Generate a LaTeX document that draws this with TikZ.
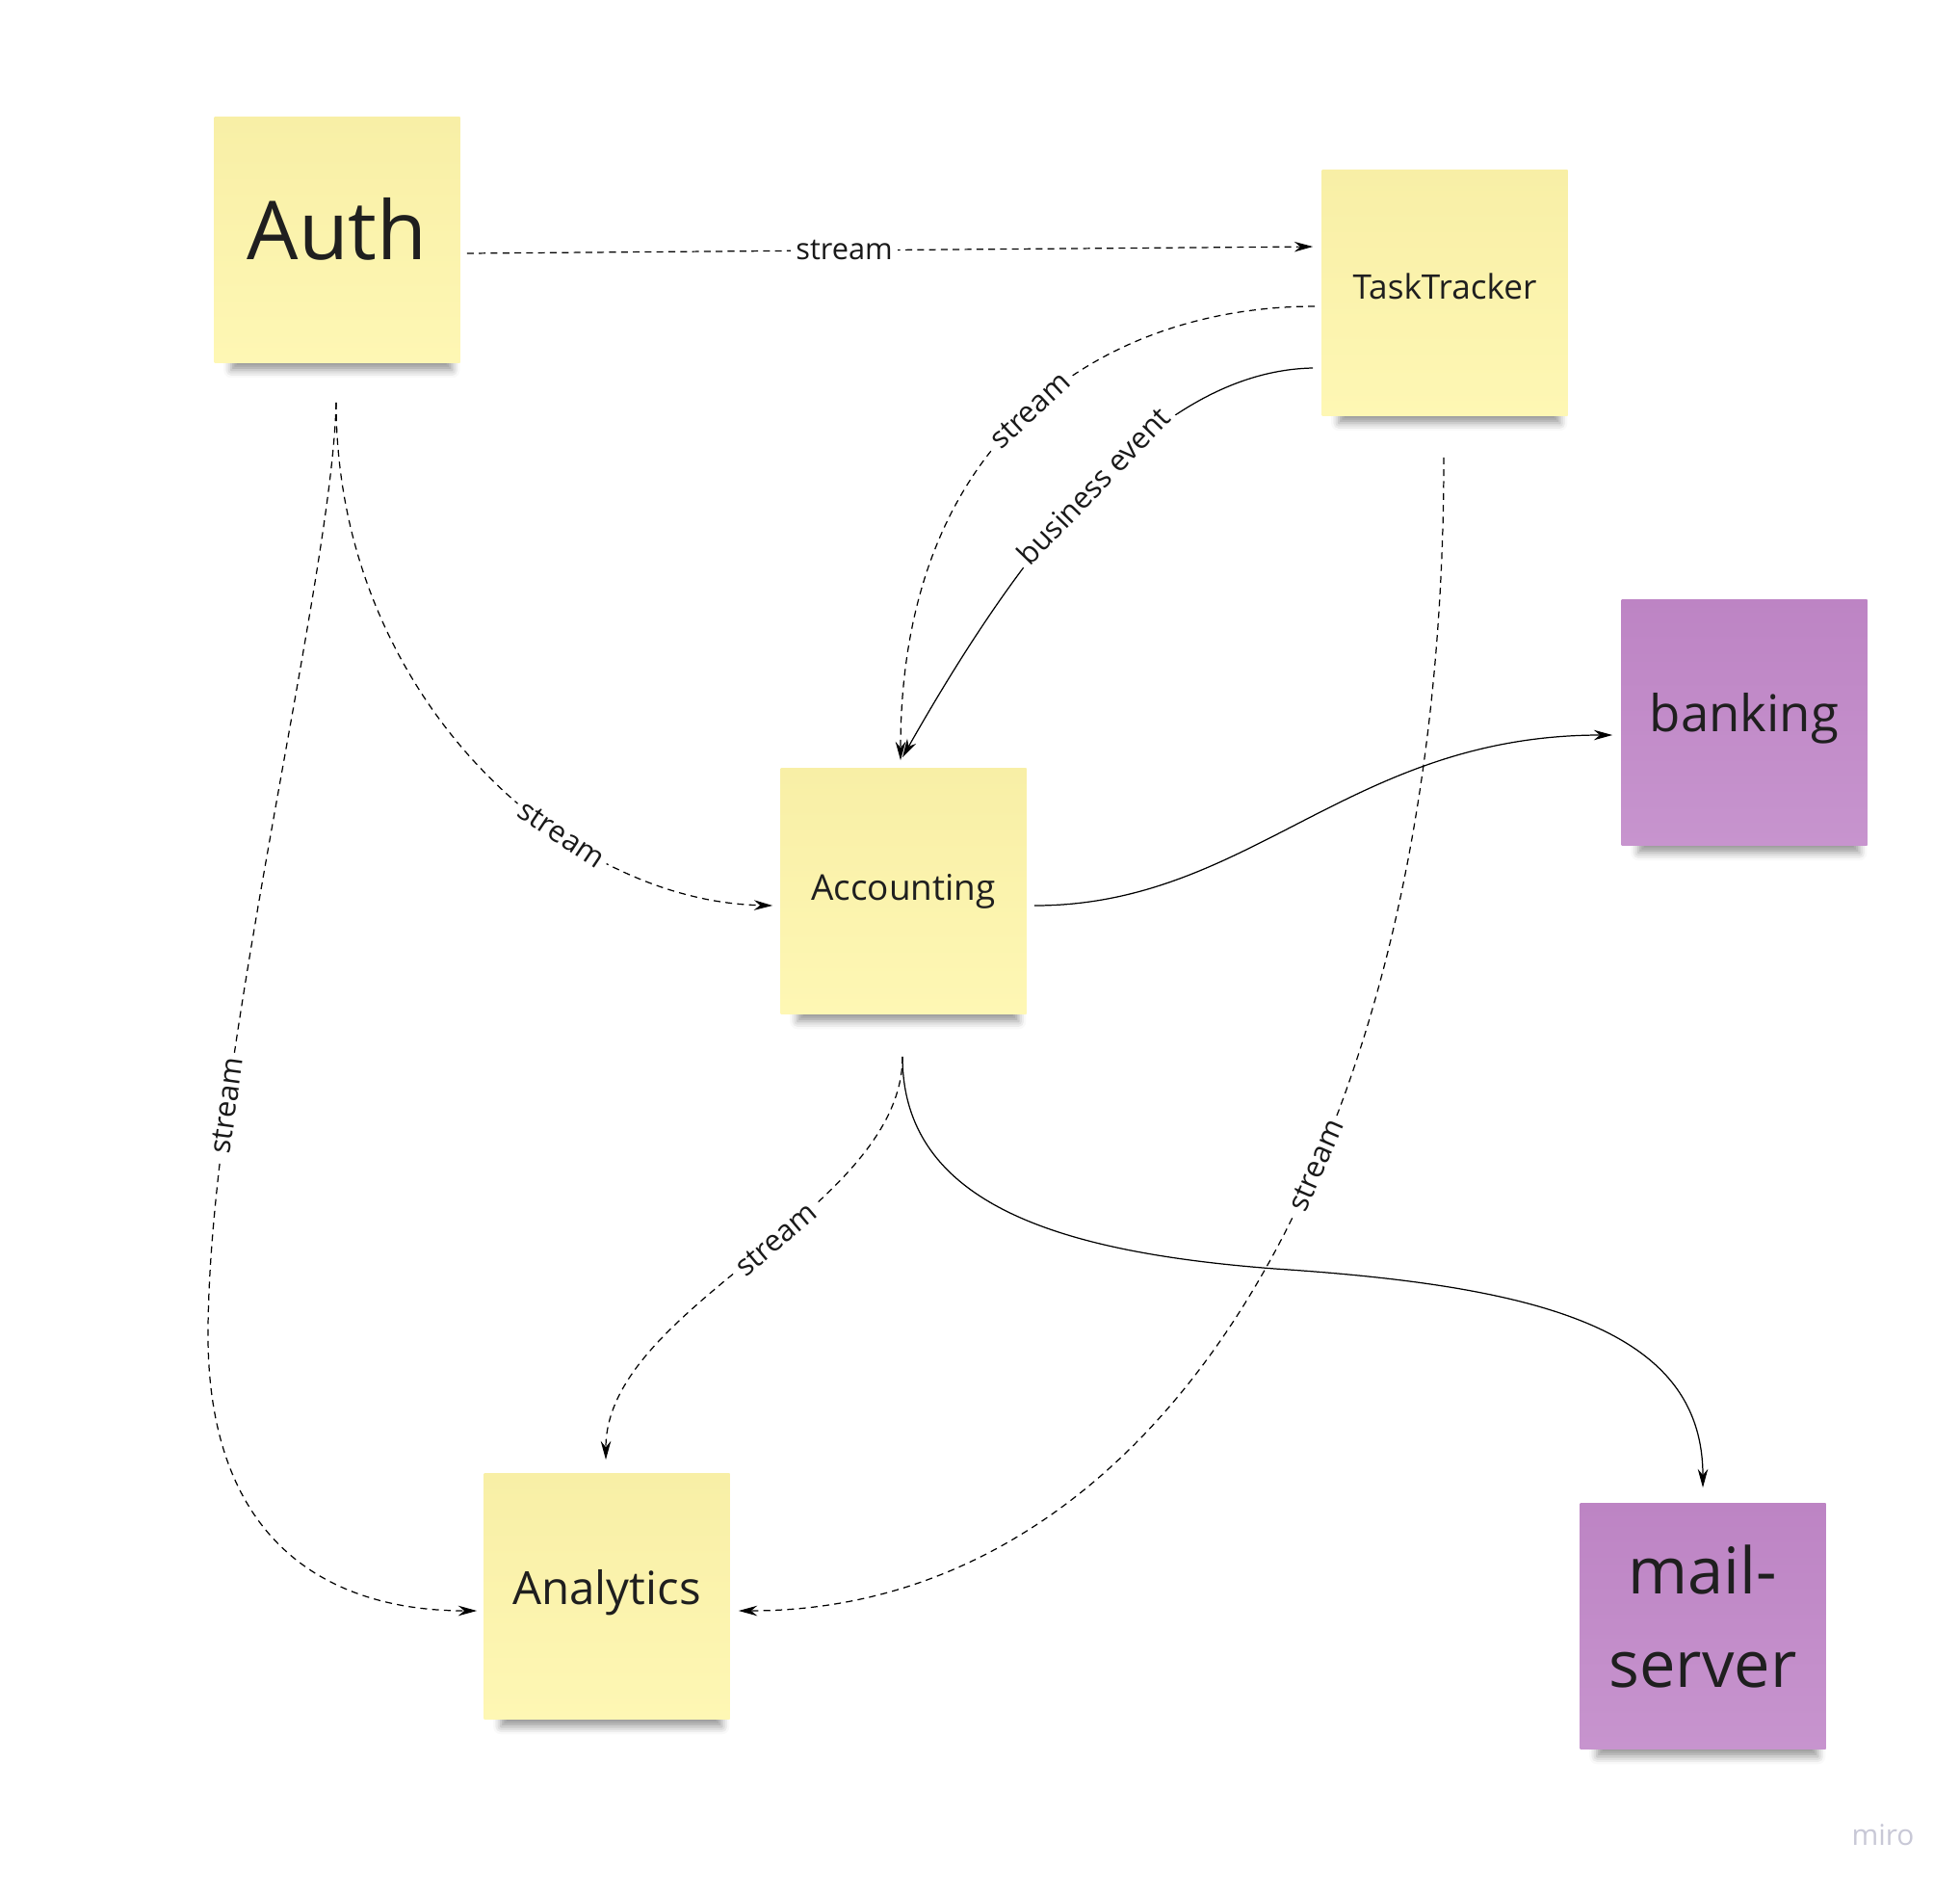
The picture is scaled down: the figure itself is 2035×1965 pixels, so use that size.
\documentclass[tikz,border=0pt]{standalone}
\usepackage{fontspec}
\setmainfont{Open Sans}
\usetikzlibrary{arrows.meta,calc,shadows.blur}
\definecolor{noteyellow}{HTML}{FEF7B4}
\definecolor{noteyellowtop}{HTML}{F8EFA6}
\definecolor{notepurple}{HTML}{C794CE}
\definecolor{notepurpletop}{HTML}{BD84C4}
\definecolor{mirogray}{HTML}{C8C8D6}
\tikzset{>={Stealth[length=11pt,width=6pt]}}
\tikzset{
  note/.style={minimum width=51mm, minimum height=51mm, inner sep=0pt, align=center,
    text=black!88,
    blur shadow={shadow xshift=3pt, shadow yshift=-13pt, shadow scale=0.9,
      shadow blur radius=5pt, shadow opacity=40}},
  yellownote/.style={note, top color=noteyellowtop, bottom color=noteyellow},
  purplenote/.style={note, top color=notepurpletop, bottom color=notepurple},
  streamline/.style={line width=0.7pt, dash pattern=on 4pt off 3pt, ->},
  eventline/.style={line width=0.7pt, ->},
  flowlabel/.style={font=\fontsize{17.5}{20}\selectfont, fill=white, inner sep=3pt,
    text=black!90}
}

\begin{document}
\begin{tikzpicture}[x=0.2mm, y=-0.2mm]
    \useasboundingbox (0,0) rectangle (2035,1965);
    % sticky notes
    \node[yellownote, text depth=13.6pt, font=\fontsize{48}{56}\selectfont] (auth) at (350,249) {Auth};
    \node[yellownote, text depth=7.4pt, font=\fontsize{20}{24}\selectfont] (tt) at (1500,304) {TaskTracker};
    \node[yellownote, font=\fontsize{21}{25}\selectfont] (acc) at (938,925) {Accounting};
    \node[yellownote, text depth=10.9pt, font=\fontsize{27}{32}\selectfont] (ana) at (630,1657) {Analytics};
    \node[purplenote, text depth=11.6pt, font=\fontsize{30}{36}\selectfont] (bank) at (1811,750) {banking};
    \node[purplenote, text depth=11.8pt, font=\fontsize{38}{55}\selectfont] (mail) at (1768,1688) {mail-\\server};
    \node[text=mirogray, font=\fontsize{17}{20}\selectfont] (wm) at (1955,1905) {miro};

    \draw[streamline] ($(auth.east)+(7,14)$) -- ($(tt.west)+(-9,-48)$)
        node[flowlabel, pos=0.446] {stream};
    \draw[streamline] ($(tt.west)+(-7,14)$) .. controls +(-215,0) and +(0,-340) ..
        ($(acc.north)+(-3,-8)$) node[flowlabel, sloped, pos=0.5] {stream};
    \draw[eventline] ($(tt.west)+(-9,78)$) .. controls +(-163,3) and +(123,-217) ..
        ($(acc.north)+(-1,-11)$) node[flowlabel, sloped, pos=0.5] {business event};
    \draw[streamline] ($(auth.south)+(-1,41)$) .. controls +(0,300) and +(-220,-5) ..
        ($(acc.west)+(-8,15)$) node[flowlabel, sloped, pos=0.66] {stream};
    \draw[streamline] ($(auth.south)+(-1,41)$) .. controls (345,600) and (218,1100) ..
        (216,1380) node[flowlabel, sloped, pos=0.76] {stream}
        .. controls (214,1600) and (340,1672) .. ($(ana.west)+(-7,15)$);
    \draw[streamline] ($(acc.south)+(-1,44)$) .. controls +(0,160) and +(0,-160) ..
        ($(ana.north)+(-1,-14)$) node[flowlabel, sloped, pos=0.45] {stream};
    \draw[eventline] ($(acc.south)+(-1,44)$) .. controls (937,1250) and (1100,1300) ..
        (1324,1317) .. controls (1600,1335) and (1768,1380) .. ($(mail.north)+(0,-16)$);
    \draw[streamline] ($(tt.south)+(-1,43)$) .. controls +(0,725) and +(434,0) ..
        ($(ana.east)+(9,15)$) node[flowlabel, sloped, pos=0.4] {stream};
    \draw[eventline] ($(acc.east)+(8,15)$) .. controls +(225,0) and +(-274,0) ..
        ($(bank.west)+(-9,13)$);
\end{tikzpicture}
\end{document}
